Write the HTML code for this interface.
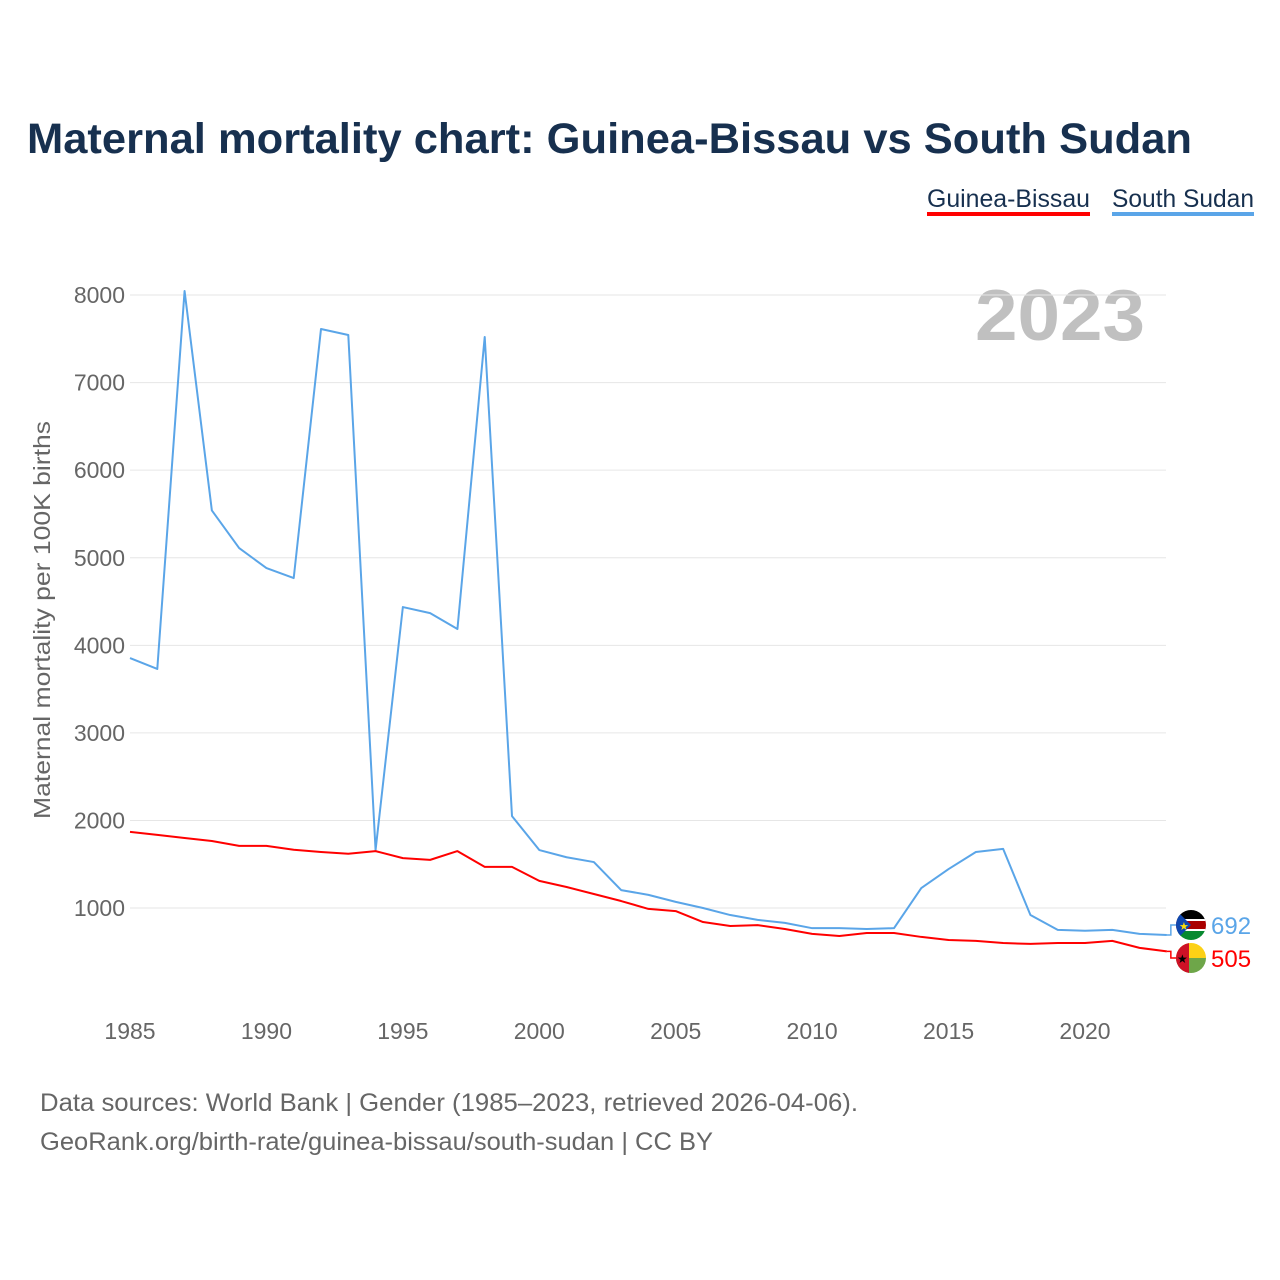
<!DOCTYPE html>
<html><head><meta charset="utf-8"><style>
html,body{margin:0;padding:0;background:#fff;}
svg{display:block;font-family:"Liberation Sans",sans-serif;}
</style></head><body>
<svg id="chart" width="1280" height="1280" viewBox="0 0 1280 1280">
<text x="27" y="153" font-size="43" font-weight="bold" fill="#17304f" textLength="1165" lengthAdjust="spacingAndGlyphs">Maternal mortality chart: Guinea-Bissau vs South Sudan</text>
<g>
<g><text x="927" y="207" font-size="25" fill="#17304f" textLength="163" lengthAdjust="spacingAndGlyphs">Guinea-Bissau</text><rect x="927" y="212" width="163" height="4" fill="#ff0000"/></g>
<g><text x="1112" y="207" font-size="25" fill="#17304f" textLength="142" lengthAdjust="spacingAndGlyphs">South Sudan</text><rect x="1112" y="212" width="142" height="4" fill="#5aa5e8"/></g>
</g>
<text x="1145" y="340" font-size="72" font-weight="bold" fill="#c0c0c0" text-anchor="end" textLength="170" lengthAdjust="spacingAndGlyphs">2023</text>
<text transform="translate(50,620) rotate(-90)" font-size="23" fill="#666" text-anchor="middle" textLength="398" lengthAdjust="spacingAndGlyphs">Maternal mortality per 100K births</text>
<g id="grid"></g><g id="yt"></g><g id="xt"></g><g id="lines"></g><g id="ends"></g>
<text x="40" y="1111" font-size="25" fill="#666" textLength="818" lengthAdjust="spacingAndGlyphs">Data sources: World Bank | Gender (1985–2023, retrieved 2026-04-06).</text>
<text x="40" y="1150" font-size="25" fill="#666" textLength="673" lengthAdjust="spacingAndGlyphs">GeoRank.org/birth-rate/guinea-bissau/south-sudan | CC BY</text>
</svg>
<script>
const years=[1985,1986,1987,1988,1989,1990,1991,1992,1993,1994,1995,1996,1997,1998,1999,2000,2001,2002,2003,2004,2005,2006,2007,2008,2009,2010,2011,2012,2013,2014,2015,2016,2017,2018,2019,2020,2021,2022,2023];
const southSudan=[3855,3730,8046,5540,5111,4882,4768,7612,7544,1662,4437,4368,4186,7521,2050,1662,1580,1525,1205,1150,1070,1000,920,865,830,770,770,760,770,1228,1445,1640,1675,920,750,740,750,705,692];
const guineaBissau=[1870,1835,1800,1765,1710,1710,1665,1640,1620,1650,1570,1550,1650,1470,1470,1310,1240,1160,1080,990,965,840,795,805,760,705,680,715,715,670,635,625,600,590,600,600,625,545,505];
const yTicks=[1000,2000,3000,4000,5000,6000,7000,8000];
const xTicks=[1985,1990,1995,2000,2005,2010,2015,2020];
const NS="http://www.w3.org/2000/svg";
const X=y=>130+(y-1985)*955/35;
const Y=v=>995.6-v*0.08757;
function mk(tag,attrs,parent,txt){const e=document.createElementNS(NS,tag);for(const k in attrs)e.setAttribute(k,attrs[k]);if(txt!=null)e.textContent=txt;parent.appendChild(e);return e;}
const grid=document.getElementById('grid'),yt=document.getElementById('yt'),xt=document.getElementById('xt'),lines=document.getElementById('lines'),ends=document.getElementById('ends');
yTicks.forEach(v=>{
 const l=mk('line',{x1:130,x2:1166,y1:Y(v),y2:Y(v),stroke:'#e6e6e6','stroke-width':1},grid);
 
 
 const t=mk('text',{x:125,y:Y(v)+8,'font-size':23,fill:'#666','text-anchor':'end'},yt,String(v));
 
 
});
xTicks.forEach(v=>{
 const t=mk('text',{x:X(v),y:1039,'font-size':23,fill:'#666','text-anchor':'middle'},xt,String(v));
 
 
});
function line(data,color,name){
 const p=mk('polyline',{points:data.map((v,i)=>X(years[i])+','+Y(v)).join(' '),fill:'none',stroke:color,'stroke-width':2,'stroke-linejoin':'round'},lines);
 
 
}
line(southSudan,'#5aa5e8','south-sudan-line');
line(guineaBissau,'#ff0000','guinea-bissau-line');
const lx=X(years[years.length-1]);
function endLabel(val,fy,color,name,flag){
 const y0=Y(val);
 const c=mk('polyline',{points:`${lx},${y0} ${lx+4},${y0} ${lx+4},${fy} ${lx+10},${fy}`,fill:'none',stroke:color,'stroke-width':1.5},ends);
 
 
 const g=mk('g',{},ends);
 
 
 flag(g,1191,fy);
 const t=mk('text',{x:1211,y:fy+9,'font-size':24,fill:color},ends,String(val));
 
 
}
let cid=0;
function clip(g,cx,cy){const id='c'+(cid++);const d=mk('clipPath',{id:id},g);mk('circle',{cx:cx,cy:cy,r:15},d);return mk('g',{'clip-path':'url(#'+id+')'},g);}
endLabel(southSudan[southSudan.length-1],925,'#5aa5e8','south-sudan',(g,cx,cy)=>{
 const c=clip(g,cx,cy);
 mk('rect',{x:cx-15,y:cy-15,width:30,height:10,fill:'#000'},c);
 mk('rect',{x:cx-15,y:cy-5,width:30,height:10,fill:'#a00'},c);
 mk('rect',{x:cx-15,y:cy+5,width:30,height:10,fill:'#078930'},c);
 mk('rect',{x:cx-15,y:cy-6,width:30,height:2,fill:'#fff'},c);
 mk('rect',{x:cx-15,y:cy+4,width:30,height:2,fill:'#fff'},c);
 mk('polygon',{points:`${cx-15},${cy-15} ${cx},${cy} ${cx-15},${cy+15}`,fill:'#0f47af'},c);
 mk('text',{x:cx-12,y:cy+5,'font-size':11,fill:'#fcdd09'},c,'★');
});
endLabel(guineaBissau[guineaBissau.length-1],958,'#ff0000','guinea-bissau',(g,cx,cy)=>{
 const c=clip(g,cx,cy);
 mk('rect',{x:cx-15,y:cy-15,width:30,height:15,fill:'#fcd116'},c);
 mk('rect',{x:cx-15,y:cy,width:30,height:15,fill:'#6ea649'},c);
 mk('rect',{x:cx-15,y:cy-15,width:13,height:30,fill:'#ce1126'},c);
 mk('text',{x:cx-14,y:cy+5,'font-size':12,fill:'#000'},c,'★');
});
</script>
</body></html>
